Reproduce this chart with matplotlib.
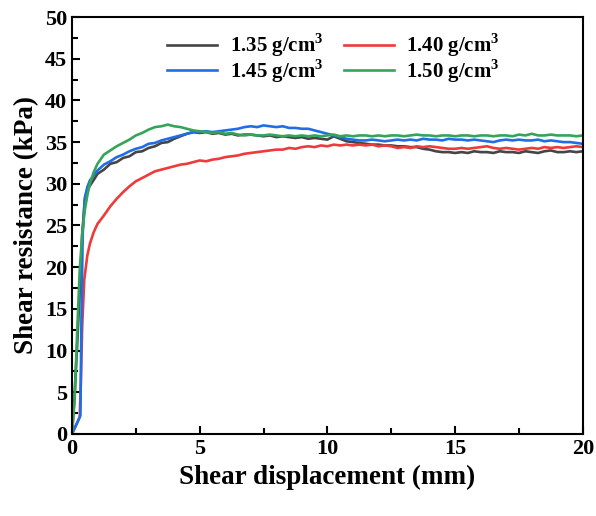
import numpy as np
import matplotlib
matplotlib.use('Agg')
import matplotlib.pyplot as plt
from matplotlib.ticker import MultipleLocator

plt.rcParams['font.family'] = ['Liberation Serif', 'DejaVu Serif']
plt.rcParams['font.weight'] = 'bold'
plt.rcParams['mathtext.fontset'] = 'custom'
plt.rcParams['mathtext.rm'] = 'Liberation Serif:bold'
plt.rcParams['mathtext.bf'] = 'Liberation Serif:bold'

labels = ['1.35 g/cm$^\\mathbf{3}$', '1.40 g/cm$^\\mathbf{3}$',
          '1.45 g/cm$^\\mathbf{3}$', '1.50 g/cm$^\\mathbf{3}$']
colors = ['#454545', '#ef3a3a', '#1f6ee6', '#34a45a']

# initial rise (displacement in mm, resistance in kPa)
black_x0 = [0, 0.1, 0.2, 0.3, 0.4, 0.5, 0.6, 0.75, 0.9]
black_y0 = [0, 4.5, 10.5, 17.0, 24.0, 28.0, 29.3, 30.0, 30.7]
red_x0 = [0, 0.15, 0.3, 0.35, 0.4, 0.48, 0.6, 0.7, 0.85]
red_y0 = [0, 1.0, 2.0, 6.5, 13.0, 18.5, 21.4, 22.8, 24.2]
blue_x0 = [0, 0.33, 0.37, 0.42, 0.5, 0.6, 0.7, 0.85]
blue_y0 = [0, 2.2, 14.0, 24.0, 28.3, 29.6, 30.4, 31.0]
green_x0 = [0, 0.1, 0.2, 0.3, 0.4, 0.5, 0.6, 0.7, 0.85]
green_y0 = [0, 4.0, 12.0, 19.5, 24.0, 26.8, 28.6, 30.0, 31.4]

# readings every 0.25 mm from 1.0 to 20.0 mm (one row per mm)
x_grid = np.arange(1.0, 20.01, 0.25)

black_y = [31.2, 31.7, 32.4, 32.6,
           33.1, 33.3, 33.8, 33.9,
           34.3, 34.5, 34.9, 35.0,
           35.4, 35.7, 36.0, 36.2,
           36.1, 36.2, 36.0, 36.1,
           35.9, 36.0, 35.8, 35.9,
           35.9, 35.8, 35.7, 35.8,
           35.6, 35.7, 35.6, 35.5,
           35.6, 35.4, 35.5, 35.4,
           35.3, 35.7, 35.4, 35.1,
           35.0, 34.9, 34.8, 34.7,
           34.7, 34.6, 34.6, 34.5,
           34.5, 34.4, 34.4, 34.2,
           34.1, 33.9, 33.8, 33.8,
           33.7, 33.8, 33.7, 33.9,
           33.8, 33.8, 33.7, 33.9,
           33.8, 33.8, 33.7, 33.9,
           33.8, 33.7, 33.9, 34.0,
           33.8, 33.8, 33.9, 33.8,
           33.9]

red_y = [25.2, 26.2, 27.3, 28.2,
         29.0, 29.7, 30.3, 30.7,
         31.1, 31.5, 31.7, 31.9,
         32.1, 32.3, 32.4, 32.6,
         32.8, 32.7, 32.9, 33.0,
         33.2, 33.3, 33.4, 33.6,
         33.7, 33.8, 33.9, 34.0,
         34.1, 34.1, 34.3, 34.2,
         34.4, 34.5, 34.4, 34.6,
         34.5, 34.7, 34.6, 34.7,
         34.6, 34.7, 34.6, 34.7,
         34.5, 34.6, 34.5, 34.3,
         34.4, 34.3, 34.5, 34.4,
         34.5, 34.4, 34.3, 34.2,
         34.2, 34.3, 34.2, 34.3,
         34.4, 34.5, 34.3, 34.2,
         34.3, 34.2, 34.1, 34.2,
         34.3, 34.2, 34.4, 34.3,
         34.4, 34.3, 34.4, 34.5,
         34.4]

blue_y = [31.6, 32.3, 32.7, 33.2,
          33.5, 33.9, 34.2, 34.4,
          34.8, 34.9, 35.2, 35.4,
          35.6, 35.8, 36.0, 36.2,
          36.2, 36.3, 36.2, 36.3,
          36.4, 36.5, 36.6, 36.8,
          36.9, 36.8, 37.0, 36.9,
          36.8, 36.9, 36.7, 36.7,
          36.6, 36.6, 36.4, 36.2,
          36.0, 35.8, 35.6, 35.4,
          35.3, 35.2, 35.2, 35.3,
          35.2, 35.1, 35.2, 35.3,
          35.2, 35.3, 35.2, 35.4,
          35.3, 35.3, 35.2, 35.4,
          35.3, 35.3, 35.2, 35.3,
          35.2, 35.1, 35.0, 35.2,
          35.3, 35.2, 35.3, 35.2,
          35.2, 35.3, 35.1, 35.2,
          35.1, 35.0, 35.0, 34.9,
          34.8]

green_y = [32.4, 33.5, 34.0, 34.5,
           34.9, 35.3, 35.8, 36.1,
           36.5, 36.8, 36.9, 37.1,
           36.9, 36.8, 36.6, 36.4,
           36.3, 36.2, 36.1, 36.2,
           36.0, 36.1, 35.9, 35.8,
           35.9, 35.8, 35.8, 35.9,
           35.8, 35.7, 35.8, 35.7,
           35.8, 35.7, 35.8, 35.7,
           35.8, 35.9, 35.7, 35.8,
           35.7, 35.8, 35.8, 35.7,
           35.8, 35.7, 35.8, 35.8,
           35.7, 35.8, 35.9, 35.8,
           35.8, 35.7, 35.8, 35.8,
           35.7, 35.8, 35.8, 35.7,
           35.8, 35.8, 35.7, 35.8,
           35.8, 35.7, 35.9, 35.8,
           36.0, 35.8, 35.8, 35.9,
           35.8, 35.8, 35.8, 35.7,
           35.8]

series = [(black_x0, black_y0, black_y),
          (red_x0, red_y0, red_y),
          (blue_x0, blue_y0, blue_y),
          (green_x0, green_y0, green_y)]

fig = plt.figure(figsize=(5.96, 5.16), dpi=100)
ax = fig.add_axes([0.1208, 0.159, 0.857, 0.808])

handles = []
for (x0, y0, y), c, lab in zip(series, colors, labels):
    xs = np.concatenate([x0, x_grid])
    ys = np.concatenate([y0, y])
    h, = ax.plot(xs, ys, color=c, lw=1.9, label=lab)
    handles.append(h)

ax.set_xlim(0, 20)
ax.set_ylim(0, 50)
ax.xaxis.set_major_locator(MultipleLocator(5))
ax.xaxis.set_minor_locator(MultipleLocator(2.5))
ax.yaxis.set_major_locator(MultipleLocator(5))
ax.yaxis.set_minor_locator(MultipleLocator(2.5))
ax.tick_params(which='both', direction='in', width=1.5, labelsize=16)
ax.tick_params(which='major', length=6)
ax.tick_params(which='minor', length=4)
for sp in ax.spines.values():
    sp.set_linewidth(1.5)

ax.set_xlabel('Shear displacement (mm)', fontsize=19.5, fontweight='bold')
ax.set_ylabel('Shear resistance (kPa)', fontsize=19.5, fontweight='bold')

# legend: row 1 -> 1.35, 1.40 ; row 2 -> 1.45, 1.50
order = [0, 2, 1, 3]
ax.legend([handles[i] for i in order], [labels[i] for i in order],
          ncol=2, frameon=False, fontsize=15, loc='upper left',
          bbox_to_anchor=(0.186, 0.965), borderpad=0, borderaxespad=0,
          handlelength=2.4, handletextpad=0.6,
          columnspacing=1.0, labelspacing=-0.1)

fig.savefig('out.png', dpi=100)
